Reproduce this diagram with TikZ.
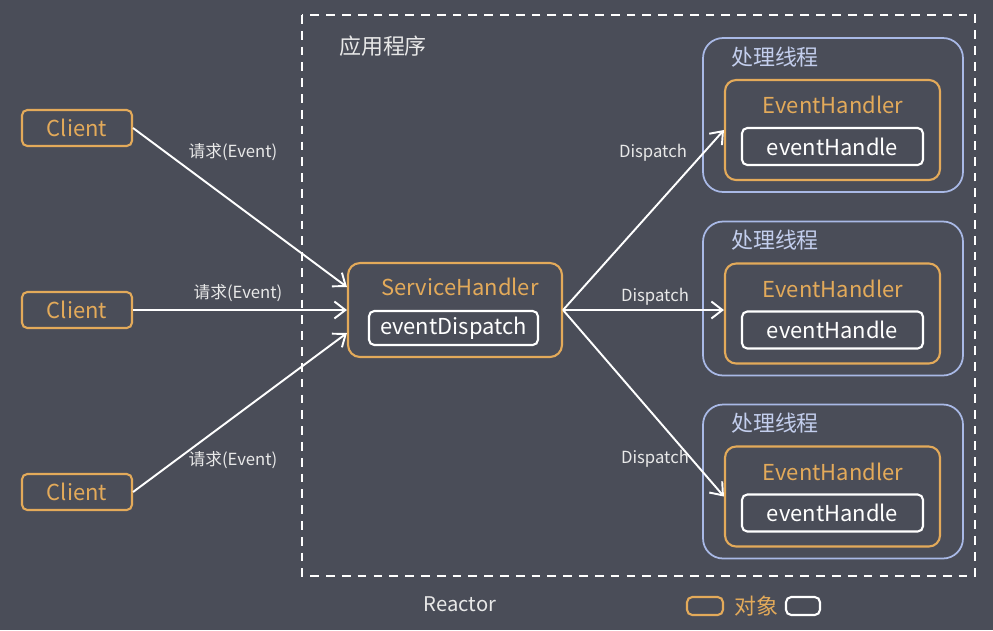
\documentclass[tikz,border=0pt]{standalone}
\usepackage{fontspec}
\setmainfont{Noto Sans CJK SC}
\usetikzlibrary{arrows.meta,positioning,calc}
\definecolor{bgGray}{HTML}{4A4D58}
\definecolor{objOrange}{HTML}{E3AA5A}
\definecolor{thrBlue}{HTML}{A9B9E6}
\definecolor{txtLight}{HTML}{E8E8E8}

\begin{document}
\begin{tikzpicture}[x=0.02cm,y=-0.02cm,
  obj/.style={draw=objOrange,line width=1.2pt,rounded corners=3pt,text=objOrange,font=\fontsize{12.5}{14}\selectfont,inner sep=0pt},
  objtext/.style={text=objOrange,font=\fontsize{12.5}{14}\selectfont,inner sep=0pt},
  meth/.style={draw=white,line width=1.2pt,rounded corners=3pt,text=white,font=\fontsize{12.5}{14}\selectfont,inner sep=0pt},
  thr/.style={draw=thrBlue,line width=1pt,rounded corners=0.4cm,minimum width=5.2cm,minimum height=3.08cm},
  thrtext/.style={text=thrBlue!70!white,font=\fontsize{12.5}{14}\selectfont,inner sep=0pt},
  arr/.style={-{Straight Barb[length=2.2mm,width=3.4mm]},line width=1.1pt,white},
  lbl/.style={text=txtLight,font=\fontsize{9.5}{11}\selectfont,inner sep=0pt}
]
\fill[bgGray] (0,0) rectangle (993,630);
\useasboundingbox (0,0) rectangle (993,630);

% Reactor frame
\draw[white,line width=1.2pt,dash pattern=on 5pt off 4pt] (302,15) rectangle (975,576);
\node[text=txtLight,font=\fontsize{12.5}{14}\selectfont,inner sep=0pt] (app) at (383,46) {应用程序};
\node[text=txtLight,font=\fontsize{11.5}{13}\selectfont,inner sep=0pt] (reactor) at (460,604) {Reactor};

% clients
\foreach \i/\y in {1/128,2/310,3/492}
  \node[obj,minimum width=2.2cm,minimum height=0.72cm] (cl\i) at (77,\y) {Client};

% service handler
\node[obj,rounded corners=0.24cm,minimum width=4.28cm,minimum height=1.88cm] (sh) at (455,310) {};
\node[objtext] (shname) at (460,287) {ServiceHandler};
\node[meth,minimum width=3.38cm,minimum height=0.68cm] (ed) at (453.5,328) {eventDispatch};

% threads
\foreach \i/\y in {1/115,2/298.5,3/481.5}{
  \node[thr] (thr\i) at (833,\y) {};
  \node[thrtext] (thrname\i) at (775,\y-58) {处理线程};
  \node[obj,rounded corners=0.22cm,minimum width=4.3cm,minimum height=2.0cm] (eh\i) at (832.5,\y+15) {};
  \node[objtext] (ehname\i) at (833,\y-10) {EventHandler};
  \node[meth,minimum width=3.62cm,minimum height=0.74cm] (ehm\i) at (832.5,\y+31.5) {eventHandle};
}

% requests
\draw[arr] (cl1.east) -- ([yshift=0.46cm]sh.west);
\draw[arr] (cl2.east) -- (sh.west);
\draw[arr] (cl3.east) -- ([yshift=-0.46cm]sh.west);
\node[lbl] (req1) at (233,152) {请求(Event)};
\node[lbl] (req2) at (238,293) {请求(Event)};
\node[lbl] (req3) at (233,460) {请求(Event)};

% dispatch
\draw[arr] (sh.east) -- (eh1.west);
\draw[arr] (sh.east) -- (sh.east -| eh2.west);
\draw[arr] (sh.east) -- (eh3.west);
\node[lbl] (dis1) at (653,153) {Dispatch};
\node[lbl] (dis2) at (655,297) {Dispatch};
\node[lbl] (dis3) at (655,459) {Dispatch};

% legend
\node[obj,minimum width=0.72cm,minimum height=0.36cm] (lgobj) at (705,606) {};
\node[objtext,right=0.2cm of lgobj] (lgobjtext) {对象};
\node[meth,minimum width=0.68cm,minimum height=0.36cm] (lgmeth) at (803,606) {};
\end{tikzpicture}
\end{document}
